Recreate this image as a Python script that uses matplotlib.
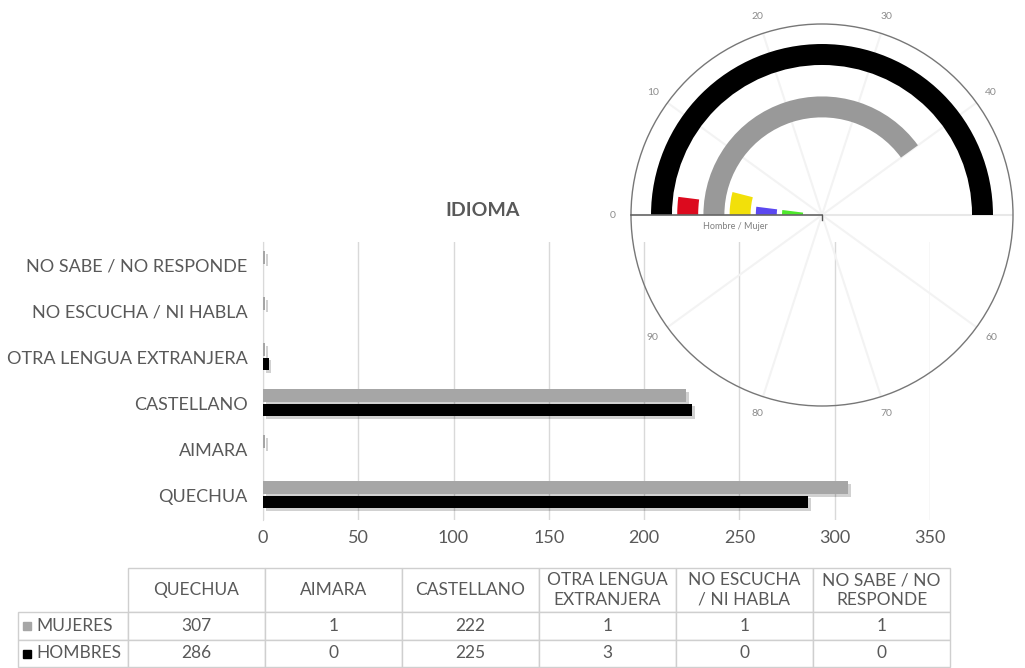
import numpy as np
import matplotlib
matplotlib.use("Agg")
import matplotlib.pyplot as plt
from matplotlib import patheffects as pe
from matplotlib.patches import Rectangle

plt.rcParams['font.family'] = ['Lato', 'DejaVu Sans']

# ---------------- data ----------------
categories = ["QUECHUA", "AIMARA", "CASTELLANO", "OTRA LENGUA EXTRANJERA",
              "NO ESCUCHA / NI HABLA", "NO SABE / NO RESPONDE"]
table_headers = ["QUECHUA", "AIMARA", "CASTELLANO", "OTRA LENGUA\nEXTRANJERA",
                 "NO ESCUCHA\n/ NI HABLA", "NO SABE / NO\nRESPONDE"]
mujeres = [307, 1, 222, 1, 1, 1]
hombres = [286, 0, 225, 3, 0, 0]
series_names = ["MUJERES", "HOMBRES"]
x_ticks = [0, 50, 100, 150, 200, 250, 300, 350]

gauge_values = [50, 2, 40, 4, 2, 2]          # outer ring to inner ring
gauge_ticks = [0, 10, 20, 30, 40, 50, 60, 70, 80, 90]
gauge_label = "Hombre / Mujer"

# ---------------- styles ----------------
TXT = '#595959'
GRID = '#d9d9d9'
C_MUJ = '#a6a6a6'
C_HOM = '#000000'
gauge_colors = ['#000000', '#dc0a1e', '#999999', '#f2e00a', '#5b48f0', '#4ee82c']

W, H = 1025, 668
fig = plt.figure(figsize=(W / 100, H / 100), dpi=100)
fig.patch.set_facecolor('white')

def fx(px):
    return px / W

def fy(py):
    return 1 - py / H

# ---------------- bar chart ----------------
ax = fig.add_axes([fx(263), fy(520), fx(930) - fx(263), fy(242) - fy(520)])
y = np.arange(len(categories))
bh = 0.28
shadow = [pe.SimplePatchShadow(offset=(2, -2), shadow_rgbFace='k', alpha=0.18), pe.Normal()]
b1 = ax.barh(y + 0.17, mujeres, height=bh, color=C_MUJ, zorder=3)
b2 = ax.barh(y - 0.15, hombres, height=bh, color=C_HOM, zorder=3)
for b in list(b1) + list(b2):
    b.set_path_effects(shadow)

ax.set_xlim(0, 350)
ax.set_ylim(-0.54, 5.5)
ax.set_xticks(x_ticks)
ax.set_xticklabels([str(t) for t in x_ticks])
ax.set_yticks(y)
ax.set_yticklabels(categories)
ax.tick_params(axis='y', length=0, pad=11, labelsize=13, labelcolor=TXT)
ax.tick_params(axis='x', length=0, pad=7, labelsize=13, labelcolor=TXT)
ax.grid(axis='x', color=GRID, lw=1, zorder=0)
for s in ['top', 'right', 'bottom']:
    ax.spines[s].set_visible(False)
ax.spines['left'].set_color(GRID)
ax.set_axisbelow(True)

fig.text(fx(483), fy(210), "IDIOMA", ha='center', va='center', fontsize=14,
         fontweight='bold', color=TXT)

# ---------------- data table ----------------
tax = fig.add_axes([fx(18), fy(667), fx(950) - fx(18), fy(568) - fy(667)])
tax.axis('off')
cell_text = [[""] + table_headers,
             [series_names[0]] + [str(v) for v in mujeres],
             [series_names[1]] + [str(v) for v in hombres]]
col_w = [110] + [137] * len(categories)
tbl = tax.table(cellText=cell_text, colWidths=[c / sum(col_w) for c in col_w],
                cellLoc='center', bbox=[0, 0, 1, 1])
tbl.auto_set_font_size(False)
row_h = [44, 28, 27]
for (r, c), cell in tbl.get_celld().items():
    cell.set_height(row_h[r])
    cell.set_edgecolor('#cfcfcf')
    cell.set_linewidth(1)
    cell.get_text().set_color(TXT)
    cell.get_text().set_fontsize(12.5)
    if r == 0:
        cell.get_text().set_linespacing(1.3)
    if r == 0 and c == 0:
        cell.visible_edges = ''
    if c == 0 and r > 0:
        cell.get_text().set_ha('left')
        cell._loc = 'left'
        cell.PAD = 0.17
# legend keys
tot_h = sum(row_h)
for i, col in enumerate([C_MUJ, C_HOM]):
    yc = (tot_h - (row_h[0] + sum(row_h[1:1 + i]) + row_h[1 + i] / 2)) / tot_h
    kw, kh = 8 / 932, 8 / 99
    tax.add_patch(Rectangle((5 / 932, yc - kh / 2), kw, kh, color=col,
                            transform=tax.transAxes, clip_on=False))

# ---------------- polar gauge overlay ----------------
R = 191
pax = fig.add_axes([fx(822 - R), fy(215 + R), fx(2 * R), 2 * R / H], projection='polar')
pax.patch.set_alpha(0)
pax.set_theta_zero_location('W')
pax.set_theta_direction(-1)

def th(v):
    return np.asarray(v) * 2 * np.pi / 100

rmax = 7.29
pax.set_ylim(0, rmax)
ring_pos = np.arange(len(gauge_values), 0, -1) + 0.126
for v, rp, col in zip(gauge_values, ring_pos, gauge_colors):
    pax.bar(0, 0.8, width=th(v), bottom=rp - 0.4, align='edge', color=col, zorder=3,
            linewidth=0)

pax.set_xticks(th(gauge_ticks))
pax.set_xticklabels([str(t) for t in gauge_ticks])
pax.tick_params(axis='x', direction='out', length=4, width=1, color='#555555',
                labelsize=7.5, labelcolor='#8c8c8c', pad=2)
pax.set_yticks([])
pax.xaxis.grid(True, color='#f3f3f3', lw=1.5)
pax.spines['polar'].set_color('#777777')
pax.spines['polar'].set_linewidth(1)
# radial axis line at 0
pax.plot([th(0), th(0)], [0, rmax], color='#666666', lw=1.2, zorder=4)
pax.plot([th(50), th(50)], [0, rmax], color='#e6e6e6', lw=1.2, zorder=2)
pax.plot([th(75), th(75)], [0, 0.18], color='#555555', lw=1, zorder=4)

fig.text(fx(735), fy(227), gauge_label, ha='center', va='center', fontsize=6.5,
         color='#7f7f7f')

fig.savefig('out.png', dpi=100)
